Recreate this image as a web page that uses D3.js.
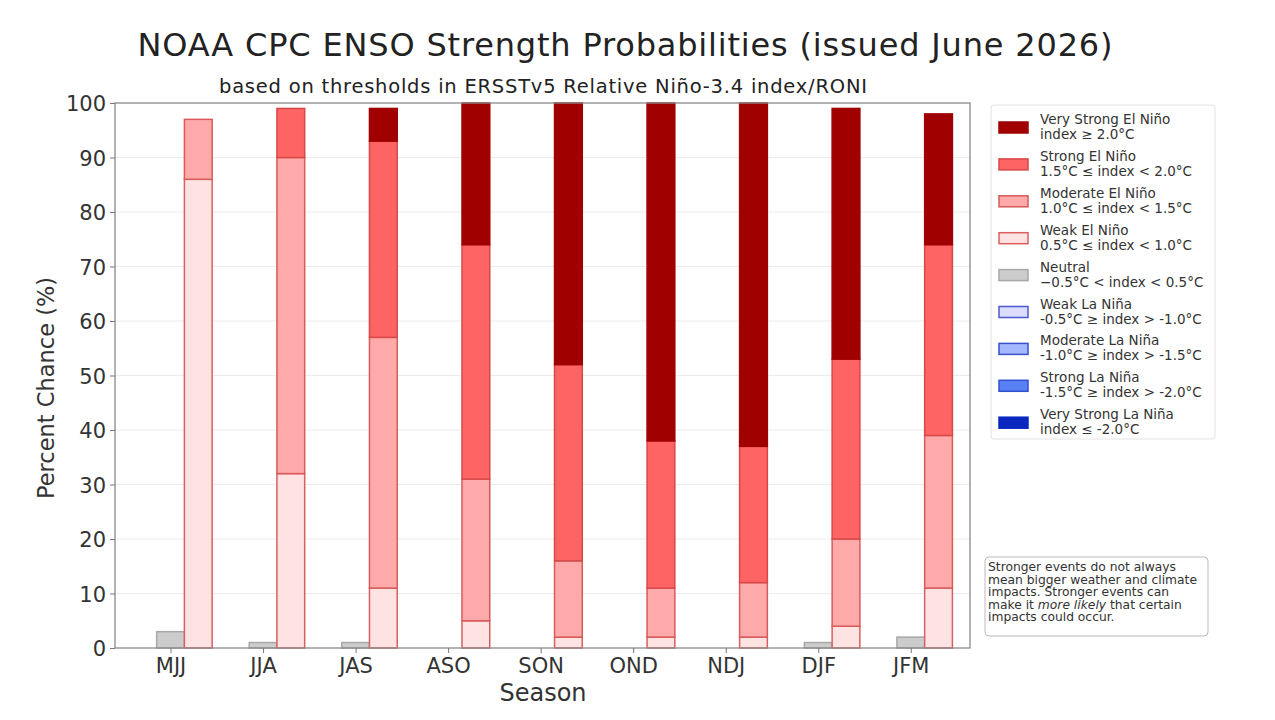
<!DOCTYPE html>
<html>
<head>
<meta charset="utf-8">
<script src="https://cdn.jsdelivr.net/npm/d3@7"></script>
<style>
    body { margin: 0; background: #fff; }
    svg { font-family: "DejaVu Sans", sans-serif; }
</style>
</head>
<body>
<div id="chart"></div>
<script>
// seasons on the x axis
const seasons = ["MJJ", "JJA", "JAS", "ASO", "SON", "OND", "NDJ", "DJF", "JFM"];

// probabilities (%) per category
const veryStrongLaNina = [0, 0, 0, 0, 0, 0, 0, 0, 0];
const strongLaNina     = [0, 0, 0, 0, 0, 0, 0, 0, 0];
const moderateLaNina   = [0, 0, 0, 0, 0, 0, 0, 0, 0];
const weakLaNina       = [0, 0, 0, 0, 0, 0, 0, 0, 0];
const neutral          = [3, 1, 1, 0, 0, 0, 0, 1, 2];
const weakElNino       = [86, 32, 11, 5, 2, 2, 2, 4, 11];
const moderateElNino   = [11, 58, 46, 26, 14, 9, 10, 16, 28];
const strongElNino     = [0, 9, 36, 43, 36, 27, 25, 33, 35];
const veryStrongElNino = [0, 0, 6, 26, 48, 62, 63, 46, 24];

const yTicks = [0, 10, 20, 30, 40, 50, 60, 70, 80, 90, 100];

const legendItems = [
    {name: "Very Strong El Niño", range: "index ≥ 2.0°C", fill: "#a00000", stroke: "#a00000"},
    {name: "Strong El Niño", range: "1.5°C ≤ index < 2.0°C", fill: "#ff6464", stroke: "#d84848"},
    {name: "Moderate El Niño", range: "1.0°C ≤ index < 1.5°C", fill: "#ffaaaa", stroke: "#d85a5a"},
    {name: "Weak El Niño", range: "0.5°C ≤ index < 1.0°C", fill: "#ffe2e2", stroke: "#d86060"},
    {name: "Neutral", range: "−0.5°C < index < 0.5°C", fill: "#cccccc", stroke: "#a8a8a8"},
    {name: "Weak La Niña", range: "-0.5°C ≥ index > -1.0°C", fill: "#dcdcff", stroke: "#4a5ad0"},
    {name: "Moderate La Niña", range: "-1.0°C ≥ index > -1.5°C", fill: "#a4b8ff", stroke: "#3a50c8"},
    {name: "Strong La Niña", range: "-1.5°C ≥ index > -2.0°C", fill: "#5a80f5", stroke: "#3050d0"},
    {name: "Very Strong La Niña", range: "index ≤ -2.0°C", fill: "#0a28c0", stroke: "#0a28c0"}
];

const W = 1275, H = 720;
const margin = {top: 103, right: 305, bottom: 72, left: 115};
const width = W - margin.left - margin.right;
const height = H - margin.top - margin.bottom;

const svg = d3.select("#chart").append("svg")
    .attr("width", W)
    .attr("height", H);

// title + subtitle
svg.append("text")
    .attr("x", 625).attr("y", 56)
    .attr("text-anchor", "middle")
    .attr("font-size", 32)
    .attr("textLength", 975)
    .attr("fill", "#222")
    .text("NOAA CPC ENSO Strength Probabilities (issued June 2026)");

svg.append("text")
    .attr("x", 543).attr("y", 93)
    .attr("text-anchor", "middle")
    .attr("font-size", 19.5)
    .attr("textLength", 648)
    .attr("fill", "#222")
    .text("based on thresholds in ERSSTv5 Relative Niño-3.4 index/RONI");

const g = svg.append("g")
    .attr("transform", `translate(${margin.left},${margin.top})`);

// scales
const x = d3.scaleLinear().domain([-0.6, 8.64]).range([0, width]);
const y = d3.scaleLinear().domain([0, 100]).range([height, 0]);
const barW = 0.3;

// grid
g.append("g")
    .selectAll("line")
    .data(yTicks.filter(d => d > 0 && d < 100))
    .join("line")
    .attr("x1", 0).attr("x2", width)
    .attr("y1", d => y(d)).attr("y2", d => y(d))
    .attr("stroke", "#ececec")
    .attr("stroke-width", 1);

// stacks: La Niña on the left, neutral centered, El Niño on the right
const groups = [
    {offset: -1, layers: [
        {vals: weakLaNina, item: legendItems[5]},
        {vals: moderateLaNina, item: legendItems[6]},
        {vals: strongLaNina, item: legendItems[7]},
        {vals: veryStrongLaNina, item: legendItems[8]}]},
    {offset: 0, layers: [
        {vals: neutral, item: legendItems[4]}]},
    {offset: 1, layers: [
        {vals: weakElNino, item: legendItems[3]},
        {vals: moderateElNino, item: legendItems[2]},
        {vals: strongElNino, item: legendItems[1]},
        {vals: veryStrongElNino, item: legendItems[0]}]}
];

groups.forEach(grp => {
    let base = seasons.map(() => 0);
    grp.layers.forEach(layer => {
        const rows = seasons.map((s, i) => ({i: i, y0: base[i], y1: base[i] + layer.vals[i]}));
        g.append("g")
            .selectAll("rect")
            .data(rows)
            .join("rect")
            .attr("x", d => x(d.i + grp.offset * barW - barW / 2))
            .attr("width", x(barW) - x(0))
            .attr("y", d => y(d.y1))
            .attr("height", d => y(d.y0) - y(d.y1))
            .attr("fill", layer.item.fill)
            .attr("stroke", layer.item.stroke)
            .attr("stroke-width", 1.5);
        base = rows.map(d => d.y1);
    });
});

// frame
g.append("rect")
    .attr("width", width).attr("height", height)
    .attr("fill", "none")
    .attr("stroke", "#8a8a8a")
    .attr("stroke-width", 1.3);

// axes
const xAxis = g.append("g")
    .attr("transform", `translate(0,${height})`)
    .call(d3.axisBottom(x).tickValues(d3.range(seasons.length)).tickFormat(i => seasons[i]).tickSize(5).tickPadding(5));
const yAxis = g.append("g")
    .call(d3.axisLeft(y).tickValues(yTicks).tickSize(5).tickPadding(4));

[xAxis, yAxis].forEach(a => {
    a.select(".domain").remove();
    a.selectAll(".tick line").attr("stroke", "#777");
    a.selectAll(".tick text")
        .attr("font-size", 21)
        .attr("font-family", "DejaVu Sans, sans-serif")
        .attr("fill", "#333");
});
yAxis.selectAll(".tick text").attr("dy", "0.36em");

// axis labels
svg.append("text")
    .attr("x", 543).attr("y", 701)
    .attr("text-anchor", "middle")
    .attr("font-size", 24)
    .attr("fill", "#333")
    .text("Season");

svg.append("text")
    .attr("transform", "translate(54,388) rotate(-90)")
    .attr("text-anchor", "middle")
    .attr("font-size", 22.5)
    .attr("fill", "#333")
    .text("Percent Chance (%)");

// legend
const legend = svg.append("g").attr("transform", "translate(991,105)");
legend.append("rect")
    .attr("width", 224).attr("height", 334)
    .attr("fill", "#fff")
    .attr("stroke", "#e4e4e4")
    .attr("rx", 3);

const entry = legend.selectAll(".entry")
    .data(legendItems)
    .join("g")
    .attr("class", "entry")
    .attr("transform", (d, i) => `translate(0,${23 + i * 36.9})`);

entry.append("rect")
    .attr("x", 8).attr("y", -6)
    .attr("width", 29).attr("height", 11)
    .attr("fill", d => d.fill)
    .attr("stroke", d => d.stroke)
    .attr("stroke-width", 1.5);

entry.append("text")
    .attr("x", 49).attr("y", -4)
    .attr("font-size", 13.5)
    .attr("fill", "#333")
    .text(d => d.name);

entry.append("text")
    .attr("x", 49).attr("y", 11)
    .attr("font-size", 13.5)
    .attr("fill", "#333")
    .text(d => d.range);

// note box
const note = svg.append("g").attr("transform", "translate(985,557)");
note.append("rect")
    .attr("width", 223).attr("height", 79)
    .attr("fill", "#fff")
    .attr("stroke", "#bbb")
    .attr("rx", 4);

const noteLines = [
    [{t: "Stronger events do not always"}],
    [{t: "mean bigger weather and climate"}],
    [{t: "impacts. Stronger events can"}],
    [{t: "make it "}, {t: "more likely", italic: true}, {t: " that certain"}],
    [{t: "impacts could occur."}]
];

noteLines.forEach((parts, i) => {
    const txt = note.append("text")
        .attr("x", 3).attr("y", 14 + i * 12.5)
        .attr("font-size", 12.3)
        .attr("fill", "#333");
    parts.forEach(p => {
        txt.append("tspan")
            .attr("font-style", p.italic ? "italic" : "normal")
            .text(p.t);
    });
});
</script>
</body>
</html>
